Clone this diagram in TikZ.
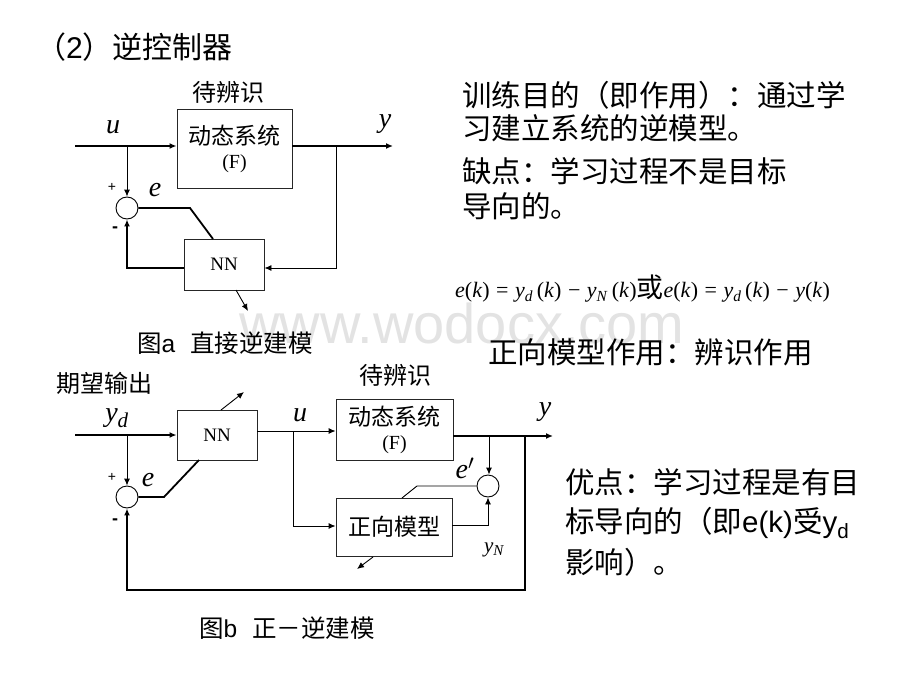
\documentclass[tikz,border=0pt]{standalone}
\usepackage{fontspec}
\setmainfont{Liberation Serif}
\newfontfamily\cjk{Noto Sans CJK SC}
\newfontfamily\arial{Liberation Sans}
\usetikzlibrary{arrows.meta}
\newcommand{\fsz}[1]{\fontsize{#1}{#1}\selectfont}
\newcommand{\osp}{\hspace{6.5pt}}
\tikzset{
  blk/.style={draw=black!85, line width=0.9pt, inner sep=0pt, align=center, font=\cjk\fsz{23}},
  sumc/.style={circle, draw=black, line width=0.9pt, minimum size=22pt, inner sep=0pt},
  thinl/.style={line width=0.9pt},
  thkl/.style={line width=1.8pt},
  arr/.style={-{Latex[length=7pt,width=6pt]}},
  mlab/.style={inner sep=0pt, font=\fsz{28}\itshape},
  sgnp/.style={inner sep=0pt, font=\arial\fsz{14}},
  sgnm/.style={inner sep=0pt, font=\arial\bfseries\fsz{18}},
  cnl/.style={inner sep=0pt, font=\cjk\fsz{24}},
  txt/.style={inner sep=0pt, anchor=west, font=\cjk\fsz{29.5}},
  captxt/.style={inner sep=0pt, anchor=west, font=\cjk\fsz{24.5}},
}
\begin{document}
\begin{tikzpicture}[x=1pt,y=-1pt]
\useasboundingbox[fill=white] (0,0) rectangle (920,690);
% watermark
\node[inner sep=0pt, anchor=base, font=\arial\fsz{56}, text=black!11] (wm) at (462,343) {www.wodocx.com};

% title
\node[inner sep=0pt, anchor=west, font=\cjk\fsz{30}] (title) at (36,47) {（{\arial 2}）逆控制器};

% ---------- diagram a ----------
\coordinate (ain) at (75,146);
\coordinate (abr) at (127,146);
\coordinate (aout) at (393,146);
\coordinate (aob) at (336,146);
\coordinate (afb) at (336,268);
\coordinate (afl) at (127,268);
\coordinate (ak) at (190,208);
\coordinate (at) at (213,239);
\coordinate (aw1) at (236,290);
\coordinate (aw2) at (248,311);
\node[blk, minimum width=115pt, minimum height=79pt] (aF) at (234.5,148.5) {动态系统\\[1pt]{\rmfamily\fsz{20}(F)}};
\node[blk, minimum width=80pt, minimum height=51pt, font=\rmfamily\fsz{19}] (aNN) at (224,264.5) {NN};
\node[sumc] (aS) at (127,208) {};
\node[cnl] (alab) at (228,92) {待辨识};
\node[mlab] (au) at (113,127) {u};
\node[mlab] (ay) at (385,124) {y};
\node[sgnp] (ap) at (112,187) {+};
\node[sgnm] (am) at (115,230) {-};
\node[mlab] (ae) at (155,190) {e};

\draw[thkl,arr] (ain) -- (ain -| aF.west);
\draw[thkl,arr] (ain -| aF.east) -- (aout);
\draw[thinl,arr] (abr) -- (aS.north);
\draw[thinl,arr] (aob) -- (afb) -- (afb -| aNN.east);
\draw[thkl,arr] (afb -| aNN.west) -- (afl) -- (aS.south);
\draw[thkl] (aS.east) -- (ak) -- (at);
\draw[thinl,arr] (aw1) -- (aw2);

\node[captxt] (capa) at (137,343) {图{\arial a}\hspace{15pt}直接逆建模};

% ---------- diagram b ----------
\coordinate (bin) at (75,435);
\coordinate (bbr) at (127,435);
\coordinate (bk) at (164,497);
\coordinate (bt) at (199,460);
\coordinate (bw1) at (221,410);
\coordinate (bw2) at (244,392);
\coordinate (bub) at (293,431);
\coordinate (bud) at (293,526);
\coordinate (bout) at (553,436);
\coordinate (bob) at (489,436);
\coordinate (bfr) at (488,525);
\coordinate (bek) at (417,486);
\coordinate (bet) at (402,498);
\coordinate (bv1) at (373,557);
\coordinate (bv2) at (357,569);
\coordinate (bfb) at (525,436);
\coordinate (bfb2) at (525,590);
\coordinate (bfb3) at (127,590);

\node[blk, minimum width=80pt, minimum height=50pt, font=\rmfamily\fsz{19}] (bNN) at (217,435) {NN};
\node[blk, minimum width=117pt, minimum height=61pt] (bF) at (394.5,429.5) {动态系统\\[1pt]{\rmfamily\fsz{20}(F)}};
\node[blk, minimum width=116pt, minimum height=58pt] (bM) at (394,527) {正向模型};
\node[sumc] (bS) at (127,497) {};
\node[sumc] (bS2) at (488,486) {};

\node[cnl] (bexp) at (104,383) {期望输出};
\node[cnl] (blab) at (395,375) {待辨识};
\node[mlab] (byd) at (117,418) {y\textsubscript{\fsz{21}d}};
\node[mlab] (bu) at (300,415) {u};
\node[mlab] (by) at (545,412) {y};
\node[sgnp] (bp) at (112,477) {+};
\node[sgnm] (bm) at (115,522) {-};
\node[mlab] (be) at (148,480) {e};
\node[mlab] (bep) at (465,468) {e$'$};
\node[inner sep=0pt, font=\fsz{21}\itshape] (byn) at (494,550) {y\textsubscript{\fsz{15}N}};

\draw[thkl,arr] (bin) -- (bNN.west);
\draw[thinl,arr] (bbr) -- (bS.north);
\draw[thkl] (bS.east) -- (bk) -- (bt);
\draw[thinl,arr] (bw1) -- (bw2);
\draw[thinl,arr] (bub -| bNN.east) -- (bub -| bF.west);
\draw[thinl,arr] (bub) -- (bud) -- (bud -| bM.west);
\draw[thkl,arr] (bout -| bF.east) -- (bout);
\draw[thinl,arr] (bob) -- (bob |- bS2.north);
\draw[thinl,arr] (bfr -| bM.east) -- (bfr) -- (bS2.south);
\draw[thinl] (bS2.west) -- (bek) -- (bet);
\draw[thinl,arr] (bv1) -- (bv2);
\draw[thkl,arr] (bfb) -- (bfb2) -- (bfb3) -- (bS.south);

\node[captxt] (capb) at (199,628) {图{\arial b}\hspace{15pt}正－逆建模};

% ---------- right texts ----------
\node[txt] (t1) at (462,95) {训练目的（即作用）：通过学};
\node[txt] (t2) at (462,128) {习建立系统的逆模型。};
\node[txt] (t3) at (462,171) {缺点：学习过程不是目标};
\node[txt] (t4) at (462,206) {导向的。};
\node[inner sep=0pt, anchor=west, font=\fsz{22}] (fm) at (455,289)
  {\textit{e}(\textit{k})\osp=\osp\textit{y}\textsubscript{\textit{d}}\,(\textit{k})\osp−\osp\textit{y}\textsubscript{\textit{N}}\,(\textit{k}){\cjk\fsz{27}或}\textit{e}(\textit{k})\osp=\osp\textit{y}\textsubscript{\textit{d}}\,(\textit{k})\osp−\osp\textit{y}(\textit{k})};
\node[txt] (t5) at (488,352) {正向模型作用：辨识作用};
\node[txt] (t6) at (565,482) {优点：学习过程是有目};
\node[txt] (t7) at (565,523) {标导向的（即{\arial e(k)}受{\arial y\textsubscript{d}}};
\node[txt] (t8) at (565,562) {影响）。};
\end{tikzpicture}
\end{document}
